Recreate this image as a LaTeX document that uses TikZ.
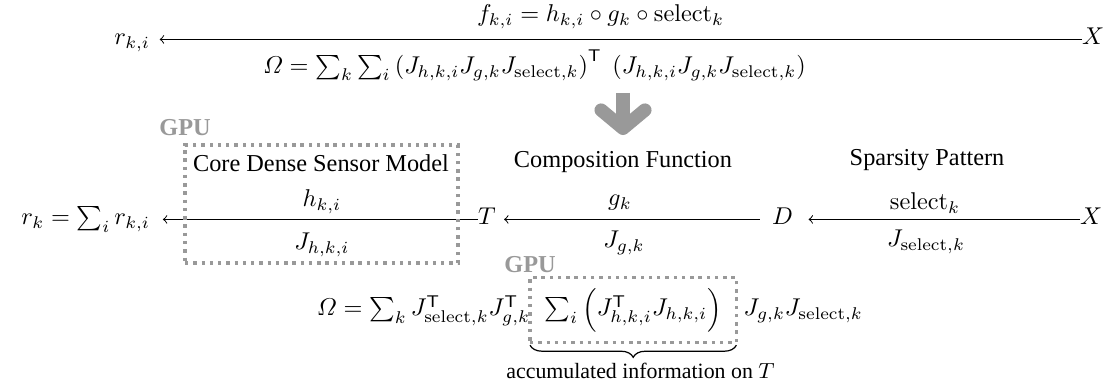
\documentclass[tikz,border=0pt]{standalone}
\usepackage{amsmath}
\usepackage[no-math]{fontspec}
\setmainfont{Liberation Serif}
\usetikzlibrary{arrows.meta,decorations.pathreplacing,fit}
\begin{document}
\begin{tikzpicture}[x=0.01446cm, y=-0.01446cm,
  every node/.style={inner sep=0pt, outer sep=0pt},
  flow/.style={-to, line width=0.4pt},
  gpubox/.style={draw=gray!80, line width=1.4pt, dash pattern=on 1.4pt off 2pt},
  gpulabel/.style={text=gray!80, font=\rmfamily\bfseries},
  txt/.style={font=\rmfamily},
  fat/.style={draw=gray!80, line width=5.5pt, -{Straight Barb[length=7.5pt 0 0, width=18pt 0 0, round]}},
  bracestyle/.style={decorate, decoration={brace, mirror, amplitude=5pt, raise=1.2pt}, line width=0.5pt}]
\useasboundingbox (0,0) rectangle (1110,388);

% top row
\node[anchor=base east] (rki) at (150,45) {$r_{k,i}$};
\node[anchor=base west] (Xa) at (1082,45) {$X$};
\draw[flow, shorten >=4pt] (Xa.mid west) -- (rki.mid east);
\node[anchor=west] (flbl) at (477,17) {$f_{k,i} = h_{k,i}\circ g_k \circ \mathrm{select}_k$};
\node[anchor=west] (omtop) at (263,65) {$\varOmega = \sum_k \sum_i \left(J_{h,k,i} J_{g,k} J_{\mathrm{select},k}\right)^{\mathsf{T}}\; \left(J_{h,k,i} J_{g,k} J_{\mathrm{select},k}\right)$};

% thick arrow
\coordinate (fa) at (623,93);
\coordinate (fb) at (623,135);
\draw[fat] (fa) -- (fb);

% middle row
\node[anchor=base east] (rk) at (150,225) {$r_k = \sum_i r_{k,i}$};
\node[anchor=base west] (T) at (478,225) {$T$};
\node[anchor=base west] (D) at (772,225) {$D$};
\node[anchor=base west] (Xb) at (1080,225) {$X$};
\draw[flow, shorten >=5.3pt] (T.mid west) -- (rk.mid east);
\draw[flow, shorten <=5pt, shorten >=3.5pt] (D.mid west) -- (T.mid east);
\draw[flow, shorten >=6.5pt] (Xb.mid west) -- (D.mid east);

\node[txt] (core) at (321,163) {Core Dense Sensor Model};
\node (h) at (322,202) {$h_{k,i}$};
\node (Jh) at (322,245) {$J_{h,k,i}$};
\node[txt] (comp) at (623,162) {Composition Function};
\node (g) at (620,203) {$g_k$};
\node (Jg) at (624,243) {$J_{g,k}$};
\node[txt] (spar) at (927,160) {Sparsity Pattern};
\node (sel) at (925,203) {$\mathrm{select}_k$};
\node (Js) at (926,242) {$J_{\mathrm{select},k}$};

\coordinate (b1nw) at (185,145);
\coordinate (b1se) at (458,263);
\node[gpubox, fit=(b1nw)(b1se)] (box1) {};
\node[gpulabel, anchor=south] (gpu1) at ([yshift=4pt]box1.north west) {GPU};

% bottom formula
\node[anchor=base east] (omL) at (530,316) {$\varOmega = \sum_k J^{\mathsf{T}}_{\mathrm{select},k} J^{\mathsf{T}}_{g,k}$};
\node[anchor=base west, inner xsep=6pt, inner ysep=4.3pt] (omM) at (omL.base east) {$\sum_i \left(J^{\mathsf{T}}_{h,k,i} J_{h,k,i}\right)$};
\node[anchor=base west] (omR) at ([xshift=3pt]omM.base east) {$J_{g,k} J_{\mathrm{select},k}$};
\node[gpubox, fit=(omM)] (box2) {};
\node[gpulabel, anchor=south] (gpu2) at ([yshift=2pt]box2.north west) {GPU};
\draw[bracestyle] (box2.south west) -- (box2.south east);
\node[font=\rmfamily\small, anchor=north] (acc) at ([xshift=3pt, yshift=-8.6pt]box2.south) {accumulated information on $T$};
\end{tikzpicture}
\end{document}
